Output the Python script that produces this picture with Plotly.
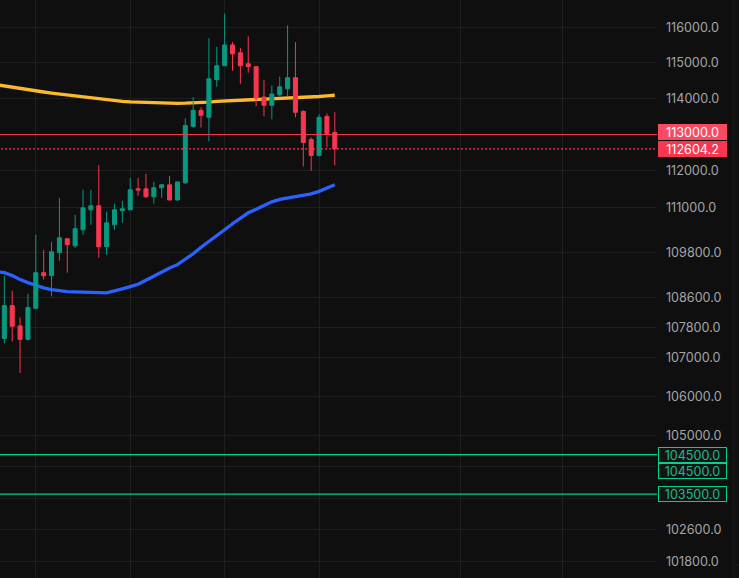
import numpy as np
import plotly.graph_objects as go

# candle index, one bar = one step on the x axis
idx = list(range(43))
opens = [107510, 108375, 107840, 107485, 108305, 109250, 109170, 109785, 110160, 109970,
         110400, 110940, 111050, 109945, 110535, 110915, 110940, 111510, 111510, 111295,
         111540, 111620, 111210, 111675, 113225, 113670, 113475, 114525, 114915, 115500,
         115280, 114970, 114890, 114040, 113810, 114100, 114270, 114580, 113640, 112865,
         112425, 113500, 113060]
highs = [109170, 108770, 108060, 108690, 110265, 109865, 110080, 111265, 110160, 110805,
         111485, 111485, 112160, 110890, 111105, 111185, 111810, 111810, 111920, 111700,
         111645, 111865, 111700, 113445, 114040, 113755, 115690, 115445, 116390, 115580,
         115415, 115745, 114890, 114525, 114355, 114610, 116055, 115580, 113670, 112920,
         113560, 113585, 113615]
lows = [107380, 107430, 106605, 107460, 108305, 109065, 108620, 109570, 109250, 109915,
        110265, 110535, 109650, 109730, 110400, 110590, 110940, 111320, 111265, 111105,
        111265, 111185, 111185, 111645, 113195, 113195, 112810, 114325, 114915, 114775,
        114410, 114720, 113785, 113500, 113420, 114070, 114070, 113475, 112125, 112000,
        112395, 112645, 112150]
closes = [108375, 107830, 107485, 108325, 109250, 109170, 109810, 110185, 110000, 110430,
          110995, 111050, 109945, 110590, 110940, 110970, 111485, 111480, 111295, 111540,
          111620, 111210, 111700, 113250, 113670, 113530, 114550, 114915, 115500, 115250,
          114915, 114890, 114010, 113810, 114125, 114325, 114580, 113615, 112780, 112425,
          113475, 113030, 112604.2]

# moving averages start one bar before the first candle, off the left edge
ma_idx = list(range(-1, 43))
ma_yellow = [114385, 114350, 114305, 114265, 114235, 114210, 114180, 114150, 114125, 114095,
             114065, 114040, 114010, 113985, 113955, 113935, 113920, 113905, 113895, 113885,
             113875, 113870, 113865, 113865, 113870, 113875, 113880, 113900, 113920, 113930,
             113945, 113955, 113960, 113965, 113970, 113975, 113985, 113995, 114005, 114015,
             114040, 114055, 114075, 114090]
ma_blue = [109279, 109252, 109172, 109066, 108986, 108906, 108845, 108800, 108765, 108746,
           108738, 108738, 108730, 108720, 108712, 108755, 108818, 108880, 108940, 109050,
           109159, 109271, 109377, 109465, 109598, 109757, 109932, 110080, 110241, 110403,
           110564, 110726, 110860, 110954, 111050, 111158, 111226, 111266, 111302, 111335,
           111375, 111443, 111525, 111620]

price_ticks = [116000, 115000, 114000, 113000, 112000, 111000, 109800, 108600, 107800,
               107000, 106000, 105000, 104200, 103400, 102600, 101800]
hidden_ticks = [113000, 104200, 103400]
time_grid = [4, 16, 28, 40, 58, 71]

level_red = 113000
last_price = 112604.2
level_green = [104500, 103500]
price_labels = ['113000.0', '112604.2']
green_labels = ['104500.0', '104500.0', '103500.0']

BG = '#0f0f0f'
GRID = '#1f1f1f'
RED = '#f7374f'
GREEN = '#089981'
LEVEL_GREEN = '#00d48c'
TEXT = '#a6a6a6'
FONT = 'Inter, sans-serif'
W, H = 739, 578
PLOT_W = 657

x_range = [-0.55, 82.95]
y_range = [np.log10(101399), np.log10(116775)]

fig = go.Figure()

# MAs on the base y axis so the candles (overlay axis) sit on top of them
fig.add_trace(go.Scatter(x=ma_idx, y=ma_yellow, mode='lines',
                         line=dict(color='#fdb92c', width=3.3)))
fig.add_trace(go.Scatter(x=ma_idx, y=ma_blue, mode='lines',
                         line=dict(color='#2962ff', width=3.3)))

fig.add_trace(go.Candlestick(
    x=idx, open=opens, high=highs, low=lows, close=closes, yaxis='y2',
    whiskerwidth=0,
    increasing=dict(line=dict(color=GREEN, width=1), fillcolor=GREEN),
    decreasing=dict(line=dict(color=RED, width=1), fillcolor=RED),
))

# horizontal levels
ends = [-5, 90]
fig.add_trace(go.Scatter(x=ends, y=[level_red, level_red], yaxis='y2', mode='lines',
                         line=dict(color=RED, width=1)))
fig.add_trace(go.Scatter(x=ends, y=[last_price, last_price], yaxis='y2', mode='lines',
                         line=dict(color=RED, width=1.4, dash='2px,2px')))
for lv in level_green:
    fig.add_trace(go.Scatter(x=ends, y=[lv, lv], yaxis='y2', mode='lines',
                             line=dict(color=LEVEL_GREEN, width=1.3)))

fig.update_layout(
    width=W, height=H,
    margin=dict(l=0, r=W - PLOT_W, t=0, b=0, pad=0),
    paper_bgcolor=BG, plot_bgcolor=BG,
    showlegend=False,
    boxgap=0.27,
    font=dict(family=FONT, size=12.6, color=TEXT),
    xaxis=dict(range=x_range, tickvals=time_grid, showticklabels=False, ticks='',
               showgrid=True, gridcolor=GRID, gridwidth=1, zeroline=False, showline=False,
               rangeslider=dict(visible=False)),
    yaxis=dict(type='log', side='right', range=y_range, tickmode='array',
               tickvals=price_ticks,
               ticktext=['' if v in hidden_ticks else f'{v:.1f}' for v in price_ticks],
               ticks='', ticklabelstandoff=8,
               tickfont=dict(family=FONT, size=12.6, color=TEXT),
               showgrid=True, gridcolor=GRID, gridwidth=1, zeroline=False, showline=False,
               automargin=False),
    yaxis2=dict(type='log', overlaying='y', side='right', range=y_range,
                showticklabels=False, ticks='', showgrid=False, zeroline=False,
                automargin=False),
)

# strip at the far right of the price scale
fig.add_shape(type='rect', xref='paper', yref='paper', x0=732 / PLOT_W, x1=735 / PLOT_W,
              y0=0, y1=1, fillcolor='#151515', line_width=0, layer='below')
fig.add_shape(type='line', xref='paper', yref='paper', x0=735 / PLOT_W, x1=739 / PLOT_W,
              y0=1 - 565 / H, y1=1 - 565 / H, line=dict(color=GRID, width=1))


def price_box(text, y_mid, bg, border, color):
    fig.add_annotation(xref='paper', yref='paper', x=658 / PLOT_W, y=1 - y_mid / H,
                       xanchor='left', yanchor='middle', text=text, showarrow=False,
                       width=67, height=14, align='center', bgcolor=bg, bordercolor=border,
                       borderwidth=1, borderpad=0,
                       font=dict(family=FONT, size=12.6, color=color))


price_box(price_labels[0], 131.7, '#f64b62', '#f64b62', '#ffffff')
price_box(price_labels[1], 148.5, RED, RED, '#ffffff')
price_box(green_labels[0], 454.5, '#141414', LEVEL_GREEN, '#1fb98a')
price_box(green_labels[1], 471.2, '#141414', LEVEL_GREEN, '#1fb98a')
price_box(green_labels[2], 494.3, '#141414', LEVEL_GREEN, '#1fb98a')

# no page margin, the chart fills the window
fig.write_html("out.html", config={'displayModeBar': False},
               post_script="document.body.style.margin='0';document.body.style.background='#0f0f0f';")
